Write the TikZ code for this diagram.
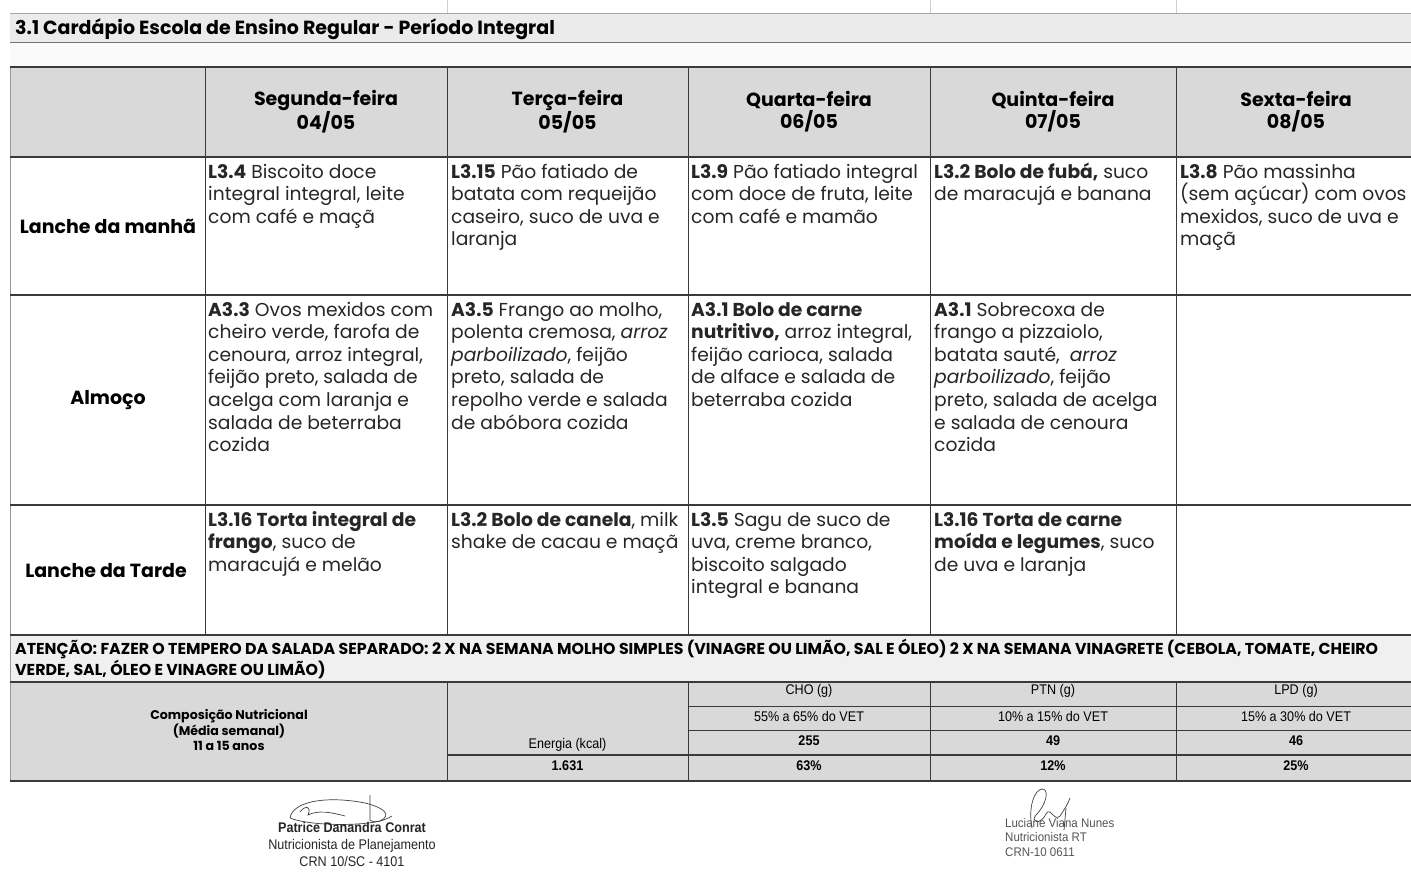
\documentclass[tikz,border=0pt]{standalone}
\usepackage{fontspec}
\usepackage{graphicx}
\setmainfont{Poppins}
\newfontfamily\narrowfont[FakeStretch=0.9]{Liberation Sans}
\newfontfamily\signfont[FakeStretch=0.92]{Liberation Sans}
\definecolor{hdrgray}{HTML}{D9D9D9}
\definecolor{titlegray}{HTML}{EBEBEB}
\definecolor{attngray}{HTML}{F0F0F0}
\definecolor{gridclr}{HTML}{3A3A3A}
\definecolor{faintclr}{HTML}{D0D0D0}
\definecolor{txtclr}{HTML}{262626}
\definecolor{sigclr}{HTML}{555555}
\newcommand{\cellbox}[1]{\parbox[t]{300pt}{\raggedright #1}}
\begin{document}
\begin{tikzpicture}[x=1pt,y=-1pt,
  gridline/.style={draw=gridclr, line width=1.3pt},
  thinline/.style={draw=gridclr, line width=1pt},
  faint/.style={draw=faintclr, line width=0.8pt},
  celltext/.style={anchor=base west, inner sep=0pt, text=txtclr, font=\fontsize{18.7}{22.6}\selectfont},
  hdrtext/.style={inner sep=0pt, align=center, font=\fontsize{19}{22}\selectfont\bfseries},
  lbltext/.style={inner sep=0pt, font=\fontsize{19}{22}\selectfont\bfseries},
  nutr/.style={inner sep=0pt, font=\narrowfont\fontsize{14}{16}\selectfont},
  nutrb/.style={inner sep=0pt, font=\narrowfont\fontsize{14}{16}\selectfont\bfseries},
  sigtext/.style={inner sep=0pt, align=center, font=\narrowfont\fontsize{14}{17}\selectfont, text=black!85},
  sigtextr/.style={inner sep=0pt, anchor=base west, font=\signfont\fontsize{12.5}{14.5}\selectfont, text=sigclr},
  scribble/.style={draw=black!75, line width=0.7pt}
]
\useasboundingbox (0,0) rectangle (1411,876);
\fill[white] (0,0) rectangle (1411,876);

% faint spreadsheet gridlines
\foreach \xx in {447,930,1176} {
  \draw[faint] (\xx,0) -- (\xx,13);
  \draw[faint] (\xx,42) -- (\xx,67);
}
% title bar
\fill[titlegray] (10,13) rectangle (1411,42);
\draw[draw=black!35, line width=0.8pt] (10,13) -- (1411,13);
\draw[draw=black!55, line width=1pt] (10,42) -- (1411,42);
\fill[black!2] (10,42.5) rectangle (1411,66);
\node[anchor=base west, inner sep=0pt, font=\fontsize{19}{22}\selectfont\bfseries] (title) at (15,34.5) {3.1 Cardápio Escola de Ensino Regular - Período Integral};

% header row background
\fill[hdrgray] (10,67) rectangle (1411,157);
% attention row background
\fill[attngray] (10,635) rectangle (1411,682);
% nutrition block background
\fill[hdrgray] (10,682) rectangle (1411,781);

% left border
\draw[draw=black!40, line width=0.8pt] (10,67) -- (10,781);

% horizontal grid lines
\draw[gridline] (10,67) -- (1411,67);
\draw[gridline] (10,157) -- (1411,157);
\draw[gridline] (10,295) -- (1411,295);
\draw[gridline] (10,505) -- (1411,505);
\draw[gridline] (10,635) -- (1411,635);
\draw[gridline] (10,682) -- (1411,682);
\draw[thinline] (688,706) -- (1411,706);
\draw[thinline] (688,730) -- (1411,730);
\draw[gridline] (447,755) -- (1411,755);
\draw[gridline] (10,781) -- (1411,781);

% vertical grid lines (menu)
\foreach \xx in {205,447,688,930,1176} {
  \draw[thinline] (\xx,67) -- (\xx,635);
}
\foreach \xx in {447,688,930,1176} {
  \draw[thinline] (\xx,682) -- (\xx,781);
}

% header texts
\node[hdrtext] (h1) at (326,112) {Segunda-feira\\04/05};
\node[hdrtext] (h2) at (567.5,112) {Terça-feira\\05/05};
\node[hdrtext] (h3) at (809,112) {Quarta-feira\\06/05};
\node[hdrtext] (h4) at (1053,112) {Quinta-feira\\07/05};
\node[hdrtext] (h5) at (1296,112) {Sexta-feira\\08/05};

% row labels
\node[lbltext] (r1) at (108,226) {Lanche da manhã};
\node[lbltext] (r2) at (108,400) {Almoço};
\node[lbltext] (r3) at (106,571) {Lanche da Tarde};

% row 1 : Lanche da manha
\node[celltext] (c11) at (208,178) {\cellbox{\textbf{L3.4} Biscoito doce\\integral integral, leite\\com café e maçã}};
\node[celltext] (c12) at (451,178) {\cellbox{\textbf{L3.15} Pão fatiado de\\batata com requeijão\\caseiro, suco de uva e\\laranja}};
\node[celltext] (c13) at (691,178) {\cellbox{\textbf{L3.9} Pão fatiado integral\\com doce de fruta, leite\\com café e mamão}};
\node[celltext] (c14) at (934,178) {\cellbox{\textbf{L3.2 Bolo de fubá,} suco\\de maracujá e banana}};
\node[celltext] (c15) at (1180,178) {\cellbox{\textbf{L3.8} Pão massinha\\(sem açúcar) com ovos\\mexidos, suco de uva e\\maçã}};

% row 2 : Almoco
\node[celltext] (c21) at (208,316) {\cellbox{\textbf{A3.3} Ovos mexidos com\\cheiro verde, farofa de\\cenoura, arroz integral,\\feijão preto, salada de\\acelga com laranja e\\salada de beterraba\\cozida}};
\node[celltext] (c22) at (451,316) {\cellbox{\textbf{A3.5} Frango ao molho,\\polenta cremosa, \textit{arroz}\\\textit{parboilizado}, feijão\\preto, salada de\\repolho verde e salada\\de abóbora cozida}};
\node[celltext] (c23) at (691,316) {\cellbox{\textbf{A3.1 Bolo de carne}\\\textbf{nutritivo,} arroz integral,\\feijão carioca, salada\\de alface e salada de\\beterraba cozida}};
\node[celltext] (c24) at (934,316) {\cellbox{\textbf{A3.1} Sobrecoxa de\\frango a pizzaiolo,\\batata sauté, \ \textit{arroz}\\\textit{parboilizado}, feijão\\preto, salada de acelga\\e salada de cenoura\\cozida}};

% row 3 : Lanche da Tarde
\node[celltext] (c31) at (208,526) {\cellbox{\textbf{L3.16 Torta integral de}\\\textbf{frango}, suco de\\maracujá e melão}};
\node[celltext] (c32) at (451,526) {\cellbox{\textbf{L3.2 Bolo de canela}, milk\\shake de cacau e maçã}};
\node[celltext] (c33) at (691,526) {\cellbox{\textbf{L3.5} Sagu de suco de\\uva, creme branco,\\biscoito salgado\\integral e banana}};
\node[celltext] (c34) at (934,526) {\cellbox{\textbf{L3.16 Torta de carne}\\\textbf{moída e legumes}, suco\\de uva e laranja}};

% attention row
\node[anchor=base west, inner sep=0pt, font=\fontsize{15.8}{19}\selectfont\bfseries] (attn) at (15,654.5) {\parbox[t]{1600pt}{\raggedright ATENÇÃO: FAZER O TEMPERO DA SALADA SEPARADO: 2 X NA SEMANA MOLHO SIMPLES (VINAGRE OU LIMÃO, SAL E ÓLEO) 2 X NA SEMANA VINAGRETE (CEBOLA, TOMATE, CHEIRO\\VERDE, SAL, ÓLEO E VINAGRE OU LIMÃO)}};

% nutrition block
\node[inner sep=0pt, align=center, font=\fontsize{12.6}{15.5}\selectfont\bfseries] (comp) at (229,730) {Composição Nutricional\\(Média semanal)\\11 a 15 anos};
\node[nutr] (energ) at (567.5,745) {Energia (kcal)};
\node[nutrb] (kcal) at (567.5,766) {1.631};
\node[nutr] (cho) at (809,691) {CHO (g)};
\node[nutr] (ptn) at (1053,691) {PTN (g)};
\node[nutr] (lpd) at (1296,691) {LPD (g)};
\node[nutr] (chor) at (809,716) {55\% a 65\% do VET};
\node[nutr] (ptnr) at (1053,716) {10\% a 15\% do VET};
\node[nutr] (lpdr) at (1296,716) {15\% a 30\% do VET};
\node[nutrb] (chog) at (809,741) {255};
\node[nutrb] (ptng) at (1053,741) {49};
\node[nutrb] (lpdg) at (1296,741) {46};
\node[nutrb] (chop) at (809,766) {63\%};
\node[nutrb] (ptnp) at (1053,766) {12\%};
\node[nutrb] (lpdp) at (1296,766) {25\%};

% signatures
\draw[scribble] (290,818) .. controls (293,800) and (330,796) .. (365,803) .. controls (385,808) and (392,815) .. (380,821) .. controls (360,826) and (310,826) .. (290,818);
\draw[scribble] (300,812) .. controls (305,805) and (312,806) .. (308,815) .. controls (318,810) and (330,812) .. (345,816);
\draw[scribble] (370,795) -- (370,820) .. controls (375,824) and (385,820) .. (392,816);
\node[sigtext] (sig1) at (352,844) {\textbf{Patrice Danandra Conrat}\\Nutricionista de Planejamento\\CRN 10/SC - 4101};

\draw[scribble] (1032,828) .. controls (1028,808) and (1034,790) .. (1042,789) .. controls (1050,789) and (1046,805) .. (1036,815) .. controls (1030,822) and (1040,826) .. (1046,814) .. controls (1050,806) and (1054,822) .. (1060,816) .. controls (1064,810) and (1068,804) .. (1070,798);
\draw[scribble] (1066,808) -- (1064,830);
\node[sigtextr] (sig2a) at (1005,827) {Luciane Viana Nunes};
\node[sigtextr] (sig2b) at (1005,841) {Nutricionista RT};
\node[sigtextr] (sig2c) at (1005,856) {CRN-10 0611};
\end{tikzpicture}
\end{document}
